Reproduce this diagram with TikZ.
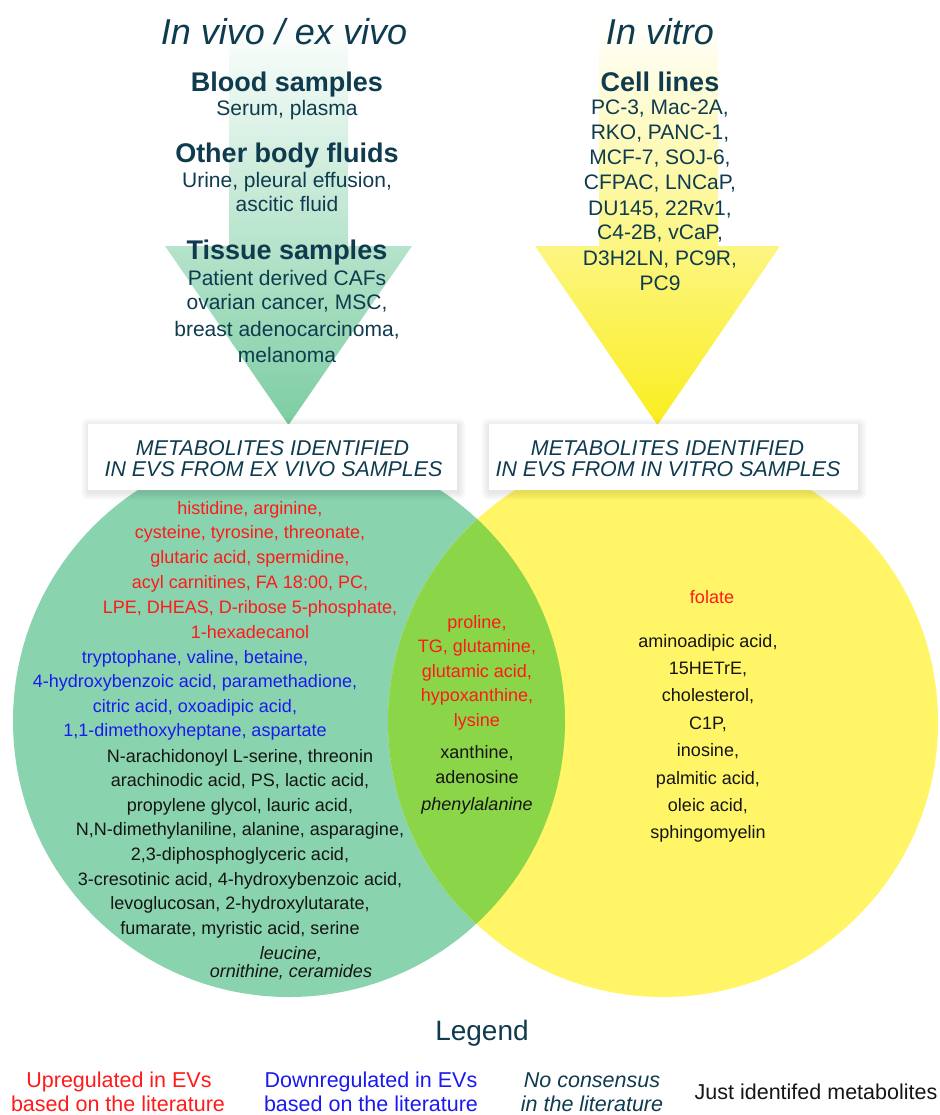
\documentclass[tikz,border=0pt]{standalone}
\usepackage{fontspec}
\setmainfont{Liberation Sans}
\usetikzlibrary{backgrounds}
\definecolor{titleblue}{HTML}{0F3B4F}
\definecolor{exgreen}{HTML}{89D3AE}
\definecolor{vitroyellow}{HTML}{FFF566}
\definecolor{overlapgreen}{HTML}{8BD548}
\definecolor{arrowgreen}{HTML}{7CCDA2}
\definecolor{arrowyellow}{HTML}{FAEE1E}
\definecolor{upred}{HTML}{FF1A1A}
\definecolor{downblue}{HTML}{1A1AF0}
\definecolor{plainblack}{HTML}{151515}

\begin{document}
\begin{tikzpicture}[
  x=1pt, y=-1pt,
  title/.style={anchor=base, text=titleblue, font=\fontsize{36}{40}\selectfont\itshape},
  head/.style={anchor=base, text=titleblue, font=\fontsize{27}{30}\selectfont\bfseries},
  src/.style={anchor=base, text=titleblue, font=\fontsize{21}{24}\selectfont},
  evbox/.style={fill=white, minimum width=369pt, minimum height=66pt, inner sep=0pt},
  boxtxt/.style={anchor=base, text=titleblue, font=\fontsize{21.4}{22}\selectfont\itshape},
  upreg/.style={anchor=base, text=upred, font=\fontsize{18}{24}\selectfont},
  downreg/.style={anchor=base, text=downblue, font=\fontsize{18}{24}\selectfont},
  ident/.style={anchor=base, text=plainblack, font=\fontsize{18}{24}\selectfont},
  nocons/.style={anchor=base, text=plainblack, font=\fontsize{18}{24}\selectfont\itshape},
  legtitle/.style={anchor=base, text=titleblue, font=\fontsize{28}{32}\selectfont},
  legitem/.style={anchor=base, font=\fontsize{21.5}{24}\selectfont}
]
\useasboundingbox (0,0) rectangle (939,1115);

% column titles
\node[title] (vivo) at (284,44.6) {In vivo / ex vivo};
\node[title] (vitro) at (660,45) {In vitro};

% ex vivo sources
\node[head] (blood) at (287,92) {Blood samples};
\node[src] (blood1) at (287,116) {Serum, plasma};
\node[head] (fluids) at (287,163) {Other body fluids};
\node[src] (fluids1) at (287,188) {Urine, pleural effusion,};
\node[src] (fluids2) at (287,211.5) {ascitic fluid};
\node[head] (tissue) at (287,259) {Tissue samples};
\foreach \txt/\y [count=\i] in {Patient derived CAFs/285, {ovarian cancer, MSC,}/309.5,
    {breast adenocarcinoma,}/336.5, melanoma/362.5}
  \node[src] (tissue\i) at (287,\y) {\txt};

% in vitro sources
\node[head] (cells) at (660,92) {Cell lines};
\foreach \txt [count=\i from 0] in {{PC-3, Mac-2A,}, {RKO, PANC-1,}, {MCF-7, SOJ-6,},
    {CFPAC, LNCaP,}, {DU145, 22Rv1,}, {C4-2B, vCaP,}, {D3H2LN, PC9R,}, {PC9}}
  \node[src] (cell\i) at (660,115+25*\i) {\txt};

% headers of the two sets
\node[evbox] (exbox) at (272.5,457) {};
\node[boxtxt] (ex1) at (272.5,455) {METABOLITES IDENTIFIED};
\node[boxtxt] (ex2) at (273.5,476.7) {IN EVS FROM EX VIVO SAMPLES};
\node[evbox] (vitrobox) at (673,457) {};
\node[boxtxt] (vit1) at (667.5,455) {METABOLITES IDENTIFIED};
\node[boxtxt] (vit2) at (668,476.7) {IN EVS FROM IN VITRO SAMPLES};

% ex vivo only
\foreach \txt [count=\i from 0] in {{histidine, arginine,}, {cysteine, tyrosine, threonate,},
    {glutaric acid,  spermidine,}, {acyl carnitines, FA 18:00, PC,},
    {LPE, DHEAS, D-ribose 5-phosphate,}, {1-hexadecanol}}
  \node[upreg] (exup\i) at (250,514+24.8*\i) {\txt};
\foreach \txt [count=\i from 0] in {{tryptophane, valine, betaine,},
    {4-hydroxybenzoic acid, paramethadione,}, {citric acid, oxoadipic acid,},
    {1,1-dimethoxyheptane, aspartate}}
  \node[downreg] (exdown\i) at (195,663+24.6*\i) {\txt};
\foreach \txt [count=\i from 0] in {{N-arachidonoyl L-serine, threonin},
    {arachinodic acid, PS, lactic acid,}, {propylene glycol, lauric acid,},
    {N,N-dimethylaniline, alanine, asparagine,}, {2,3-diphosphoglyceric acid,},
    {3-cresotinic acid, 4-hydroxybenzoic acid,}, {levoglucosan, 2-hydroxylutarate,},
    {fumarate, myristic acid, serine}}
  \node[ident] (exid\i) at (240,762+24.6*\i) {\txt};
\node[nocons] (exnc1) at (291,959) {leucine,};
\node[nocons] (exnc2) at (291,977.5) {ornithine, ceramides};

% shared
\foreach \txt [count=\i from 0] in {{proline,}, {TG, glutamine,}, {glutamic acid,},
    {hypoxanthine,}, {lysine}}
  \node[upreg] (bothup\i) at (477,628+24.5*\i) {\txt};
\node[ident] (bothid1) at (477,758) {xanthine,};
\node[ident] (bothid2) at (477,783) {adenosine};
\node[nocons] (bothnc) at (477,810) {phenylalanine};

% in vitro only
\node[upreg] (vitup) at (712,603) {folate};
\foreach \txt [count=\i from 0] in {{aminoadipic acid,}, {15HETrE,}, {cholesterol,},
    {C1P,}, {inosine,}, {palmitic acid,}, {oleic acid,}, {sphingomyelin}}
  \node[ident] (vitid\i) at (708,647+27.4*\i) {\txt};

% legend
\node[legtitle] (legend) at (482,1040) {Legend};
\node[legitem, text=upred] (legup1) at (119,1087) {Upregulated in EVs};
\node[legitem, text=upred] (legup2) at (118,1111) {based on the literature};
\node[legitem, text=downblue] (legdown1) at (371,1087) {Downregulated in EVs};
\node[legitem, text=downblue] (legdown2) at (371,1111) {based on the literature};
\node[legitem, text=titleblue, font=\fontsize{21.5}{24}\selectfont\itshape] (legnc1) at (592,1087) {No consensus};
\node[legitem, text=titleblue, font=\fontsize{21.5}{24}\selectfont\itshape] (legnc2) at (592,1111) {in the literature};
\node[legitem, text=plainblack] (legid) at (816,1099) {Just identifed metabolites};

\begin{scope}[on background layer]
  % sets
  \fill[exgreen] (289,721) circle[radius=276pt];
  \fill[vitroyellow] (663,722) circle[radius=275pt];
  \begin{scope}
    \clip (289,721) circle[radius=276pt];
    \fill[overlapgreen] (663,722) circle[radius=275pt];
  \end{scope}
  % arrows
  \shade[top color=white, middle color=arrowgreen!35, bottom color=arrowgreen]
    (229,20) -- (348,20) -- (348,246) -- (412,246) -- (288.5,425) -- (165,246) -- (229,246) -- cycle;
  \shade[top color=white, middle color=arrowyellow!35, bottom color=arrowyellow]
    (599,20) -- (718,20) -- (718,246) -- (780,246) -- (657.5,425) -- (535,246) -- (599,246) -- cycle;
  % soft shadows of the boxes
  \foreach \bx in {exbox,vitrobox}
    \foreach \k in {1,...,8}
      \fill[black, opacity=.013, rounded corners=\k pt]
        ([shift={(1-\k,2-\k)}]\bx.north west) rectangle ([shift={(1+\k,2+\k)}]\bx.south east);
\end{scope}
\end{tikzpicture}
\end{document}
